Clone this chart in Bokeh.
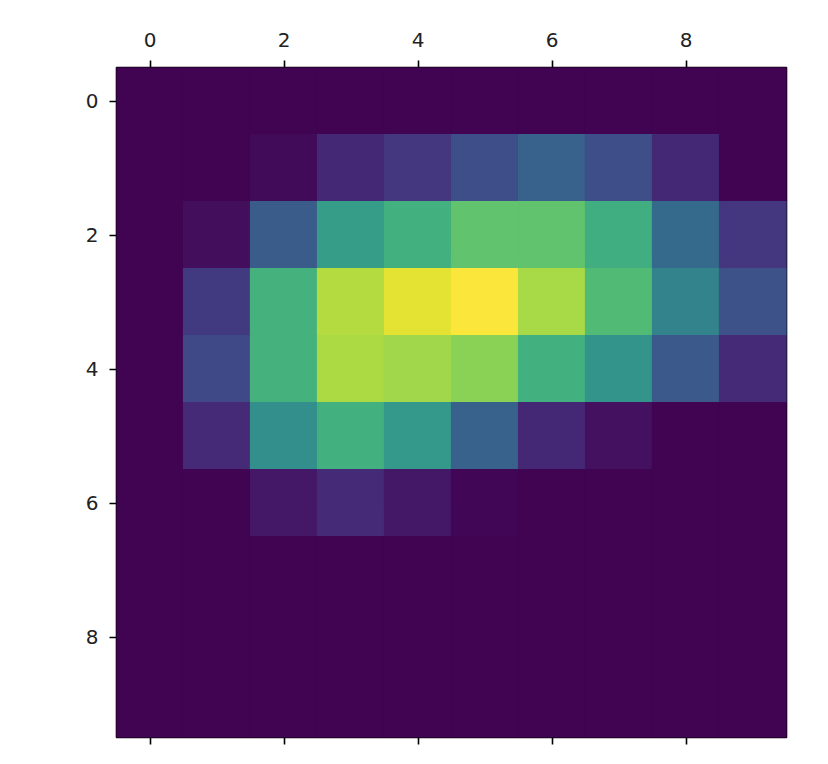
import numpy as np
from bokeh.plotting import figure
from bokeh.models import Range1d, LinearAxis, FixedTicker, LinearColorMapper, ColumnDataSource
from bokeh.palettes import Viridis256
from bokeh.embed import file_html
from bokeh.resources import INLINE

# 10x10 matrix values (row = y index, column = x index)
row0 = [0.00, 0.00, 0.00, 0.00, 0.00, 0.00, 0.00, 0.00, 0.00, 0.00]
row1 = [0.00, 0.00, 0.02, 0.11, 0.16, 0.24, 0.32, 0.24, 0.11, 0.00]
row2 = [0.00, 0.03, 0.29, 0.56, 0.64, 0.73, 0.73, 0.63, 0.35, 0.16]
row3 = [0.00, 0.17, 0.65, 0.88, 0.96, 1.00, 0.86, 0.69, 0.45, 0.25]
row4 = [0.00, 0.22, 0.65, 0.87, 0.85, 0.81, 0.64, 0.52, 0.28, 0.12]
row5 = [0.00, 0.12, 0.50, 0.64, 0.54, 0.32, 0.11, 0.04, 0.00, 0.00]
row6 = [0.00, 0.00, 0.06, 0.12, 0.06, 0.01, 0.00, 0.00, 0.00, 0.00]
row7 = [0.00, 0.00, 0.00, 0.00, 0.00, 0.00, 0.00, 0.00, 0.00, 0.00]
row8 = [0.00, 0.00, 0.00, 0.00, 0.00, 0.00, 0.00, 0.00, 0.00, 0.00]
row9 = [0.00, 0.00, 0.00, 0.00, 0.00, 0.00, 0.00, 0.00, 0.00, 0.00]
rows = [row0, row1, row2, row3, row4, row5, row6, row7, row8, row9]
tick_values = [0, 2, 4, 6, 8]

xs, ys, vals = [], [], []
for r, row in enumerate(rows):
    for c, v in enumerate(row):
        xs.append(c)
        ys.append(r)
        vals.append(v)
src = ColumnDataSource(dict(x=xs, y=ys, v=vals))

# viridis, slightly desaturated as it appears in the reference
def _soften(hexcol, k=0.5):
    rgb = np.array([int(hexcol[i:i + 2], 16) for i in (1, 3, 5)]) / 255.0
    lin = np.where(rgb <= 0.04045, rgb / 12.92, ((rgb + 0.055) / 1.055) ** 2.4)
    m = np.array([[0.8225, 0.1774, 0.0000],
                  [0.0332, 0.9669, 0.0000],
                  [0.0171, 0.0724, 0.9108]])
    out = np.clip(m @ lin, 0, 1)
    enc = np.where(out <= 0.0031308, out * 12.92, 1.055 * out ** (1 / 2.4) - 0.055)
    mix = (1 - k) * rgb + k * enc
    r, g, b = (np.round(mix * 255)).astype(int)
    return "#%02x%02x%02x" % (r, g, b)

palette = [_soften(c) for c in Viridis256]
mapper = LinearColorMapper(palette=palette, low=0.0, high=1.0)

p = figure(output_backend="svg", toolbar_location=None,
           frame_width=670, frame_height=670,
           min_border_left=116, min_border_top=67, min_border_right=26, min_border_bottom=19,
           x_range=Range1d(-0.5, 9.5), y_range=Range1d(9.5, -0.5),
           x_axis_location="below")

p.rect(x="x", y="y", width=1, height=1, source=src,
       fill_color={"field": "v", "transform": mapper},
       line_color={"field": "v", "transform": mapper}, line_width=1.2)

p.grid.visible = False
p.outline_line_color = "black"
p.outline_line_width = 1.6
p.background_fill_color = "white"

font = "DejaVu Sans"

def style_axis(ax, show_labels=True, standoff=6):
    ax.ticker = FixedTicker(ticks=tick_values)
    ax.axis_line_color = None
    ax.major_tick_line_color = "black"
    ax.major_tick_line_width = 1.6
    ax.major_tick_out = 7
    ax.major_tick_in = 0
    ax.minor_tick_line_color = None
    ax.major_label_text_font = font
    ax.major_label_text_font_size = "20px"
    ax.major_label_text_color = "#222222" if show_labels else None
    ax.major_label_standoff = standoff

style_axis(p.xaxis[0], show_labels=False)
style_axis(p.yaxis[0], standoff=11)

top = LinearAxis()
style_axis(top, standoff=14)
p.add_layout(top, "above")

open("out.html", "w").write(file_html(p, INLINE))
